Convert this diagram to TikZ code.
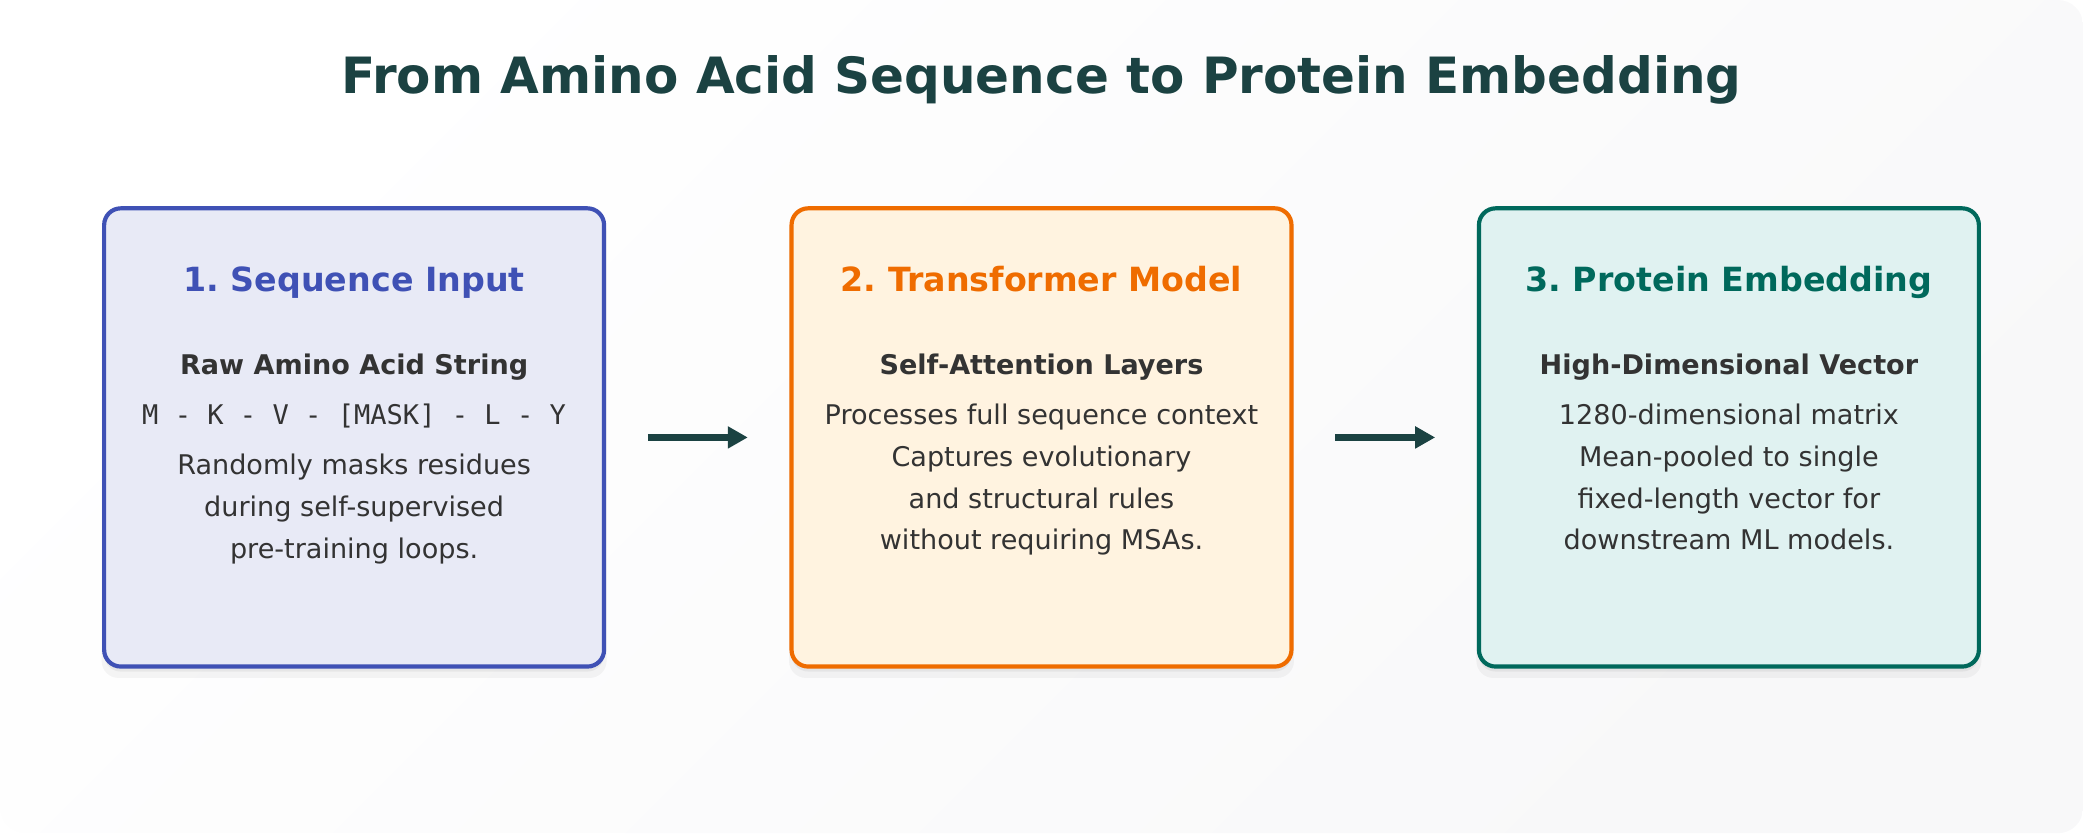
\documentclass[tikz,border=0pt]{standalone}
\usepackage{fontspec}
\setmainfont{DejaVu Sans}
\setmonofont{DejaVu Sans Mono}
\usetikzlibrary{arrows.meta,shadows}
\frenchspacing

\definecolor{titlecol}{HTML}{1B4242}
\definecolor{textcol}{HTML}{333333}
\definecolor{bgend}{HTML}{F8F8F9}
\definecolor{seqfill}{HTML}{E8EAF6}
\definecolor{seqline}{HTML}{3F51B5}
\definecolor{tffill}{HTML}{FFF3E0}
\definecolor{tfline}{HTML}{EF6C00}
\definecolor{embfill}{HTML}{E0F2F1}
\definecolor{embline}{HTML}{00695C}

\tikzset{
  stage/.style={draw, rounded corners=16.67pt, line width=4.17pt,
    minimum width=500pt, minimum height=458.3pt, inner sep=0pt,
    drop shadow={fill=black, opacity=.04, shadow xshift=0pt, shadow yshift=-9pt, shadow scale=1.01},
    drop shadow={fill=black, opacity=.05, shadow xshift=0pt, shadow yshift=-5pt}},
  head/.style={anchor=base, font=\bfseries\fontsize{33.3}{40}\selectfont},
  sub/.style={anchor=base, text=textcol, font=\bfseries\fontsize{27.08}{32}\selectfont},
  body/.style={anchor=base, text=textcol, font=\fontsize{27.08}{32}\selectfont},
  flow/.style={-{Triangle[length=20pt,width=21pt]}, line width=6.25pt, draw=titlecol,
    shorten <=41.67pt, shorten >=41.67pt},
}

\begin{document}
\begin{tikzpicture}[x=2.0833pt, y=-2.0833pt]
  % background
  \useasboundingbox (0,0) rectangle (1000,400);
  \shade[rounded corners=25pt, top color=white, bottom color=bgend, shading angle=45]
    (0,0) rectangle (1000,400);

  \node (title) at (500,45) [anchor=base, text=titlecol,
    font=\bfseries\fontsize{50}{60}\selectfont] {From Amino Acid Sequence to Protein Embedding};

  % the three stages
  \node (seq) at (170,210) [stage, draw=seqline, fill=seqfill] {};
  \node (tf)  at (500,210) [stage, draw=tfline, fill=tffill] {};
  \node (emb) at (830,210) [stage, draw=embline, fill=embfill] {};

  \draw[flow] (seq) to (tf);
  \draw[flow] (tf) to (emb);

  % 1. sequence input
  \node (seqhead) at (170,140) [head, text=seqline] {1. Sequence Input};
  \node (seqsub) at (170,180) [sub] {Raw Amino Acid String};
  \node (seqstr) at (170,204) [body, font=\ttfamily\fontsize{27.08}{32}\selectfont] {M - K - V - [MASK] - L - Y};
  \foreach \txt [count=\i] in {Randomly masks residues, during self-supervised, pre-training loops.}
    \node (seqtxt\i) at (170,208+20*\i) [body] {\txt};

  % 2. transformer model
  \node (tfhead) at (500,140) [head, text=tfline] {2. Transformer Model};
  \node (tfsub) at (500,180) [sub] {Self-Attention Layers};
  \foreach \txt [count=\i] in {Processes full sequence context, Captures evolutionary, and structural rules, without requiring MSAs.}
    \node (tftxt\i) at (500,184+20*\i) [body] {\txt};

  % 3. protein embedding
  \node (embhead) at (830,140) [head, text=embline] {3. Protein Embedding};
  \node (embsub) at (830,180) [sub] {High-Dimensional Vector};
  \foreach \txt [count=\i] in {1280-dimensional matrix, Mean-pooled to single, fixed-length vector for, downstream ML models.}
    \node (embtxt\i) at (830,184+20*\i) [body] {\txt};
\end{tikzpicture}
\end{document}
